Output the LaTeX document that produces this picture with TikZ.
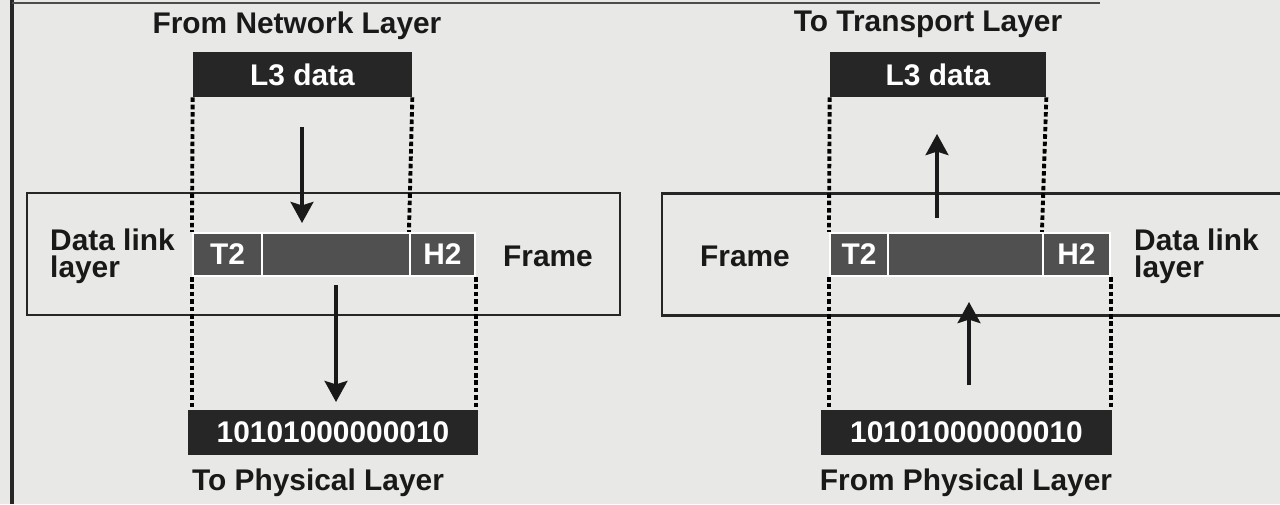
\documentclass[tikz,border=0pt]{standalone}
\usepackage{fontspec}
\setmainfont{Liberation Sans}
\usetikzlibrary{
    arrows.meta,  % For arrow tips
    positioning   % For relative placement
}
\definecolor{paper}{RGB}{232,232,230}
\definecolor{boxdark}{RGB}{38,38,38}
\definecolor{framegray}{RGB}{80,80,80}

\begin{document}
\begin{tikzpicture}[
    x=0.02cm, y=-0.02cm,
    >=Stealth, % Set default arrow tip style
    every node/.style={font=\fontsize{17}{19}\selectfont\bfseries, text=black!90},
    darkbox/.style={fill=boxdark, text=white, minimum height=0.9cm, inner sep=0pt}, % L3 data and bit boxes
    framepart/.style={fill=framegray, draw=white, line width=1.2pt, text=white,
                      minimum height=0.86cm, inner sep=0pt}, % T2 / data / H2
    layerbox/.style={draw=black!85, line width=1.4pt, minimum height=2.44cm, inner sep=0pt},
    guide/.style={black, line width=2.2pt, dash pattern=on 2.6pt off 1.6pt}, % dotted guides
    flow/.style={line width=2pt, black!90,
                 arrows={-Stealth[length=12pt, width=13pt, inset=2pt]}}, % data flow arrows
    caption/.style={align=center},
    twoline/.style={anchor=west, align=left, font=\fontsize{17}{15.5}\selectfont\bfseries}
]

    % Paper background and bounding box
    \fill[paper] (0,0) rectangle (1280,504);
    \useasboundingbox (0,0) rectangle (1280,504);
    \draw[black!85, line width=2.2pt] (12,0) -- (12,504);
    \draw[black!70, line width=0.8pt] (12,3) -- (1100,3);

    % ---------------- Sender side ----------------
    \node[layerbox, minimum width=11.86cm] (dllL) at (323.5,254) {};
    \node[caption] (fromNL) at (297,26) {From Network Layer};
    \node[darkbox, minimum width=4.38cm] (l3L) at (302.5,74.5) {L3 data};

    % Frame: trailer, payload, header
    \node[framepart, minimum width=1.38cm] (T2L) at (227.5,254.5) {T2};
    \node[framepart, minimum width=2.96cm] (dataL) at (336,254.5) {};
    \node[framepart, minimum width=1.3cm] (H2L) at (442.5,254.5) {H2};

    \node[twoline] (dlL) at (44,256) {Data link\\layer};
    \node (frL) at (548,256) {Frame};

    \node[darkbox, minimum width=5.8cm] (bitsL) at (333,432.5) {10101000000010};
    \node[caption] (toPL) at (318,483) {To Physical Layer};

    % Dotted guides
    \draw[guide] (l3L.south west) -- (T2L.north west);
    \draw[guide] (l3L.south east) -- (H2L.north west);
    \draw[guide] (T2L.south west) -- (T2L.south west |- bitsL.north);
    \draw[guide] (H2L.south east) -- (H2L.south east |- bitsL.north);

    % Arrows
    \coordinate (a1s) at (302,127);
    \coordinate (a1e) at (302,223);
    \coordinate (a2s) at (336,285);
    \coordinate (a2e) at (336,402);
    \draw[flow] (a1s) -- (a1e);
    \draw[flow] (a2s) -- (a2e);

    % ---------------- Receiver side ----------------
    \node[layerbox, minimum width=12.4cm] (dllR) at (972,254.5) {};
    \node[caption] (toTL) at (928,24) {To Transport Layer};
    \node[darkbox, minimum width=4.32cm] (l3R) at (938,74.5) {L3 data};

    \node[framepart, minimum width=1.16cm] (T2R) at (859,254.5) {T2};
    \node[framepart, minimum width=3.1cm] (dataR) at (965.5,254.5) {};
    \node[framepart, minimum width=1.34cm] (H2R) at (1076.5,254.5) {H2};

    \node (frR) at (745,256) {Frame};
    \node[twoline] (dlR) at (1128,256) {Data link\\layer};

    \node[darkbox, minimum width=5.82cm] (bitsR) at (966.5,432.5) {10101000000010};
    \node[caption] (fromPL) at (966,483) {From Physical Layer};

    % Dotted guides
    \draw[guide] (l3R.south west) -- (T2R.north west);
    \draw[guide] (l3R.south east) -- (H2R.north west);
    \draw[guide] (T2R.south west) -- (T2R.south west |- bitsR.north);
    \draw[guide] (H2R.south east) -- (H2R.south east |- bitsR.north);

    % Arrows
    \coordinate (b1s) at (937,218);
    \coordinate (b1e) at (937,134);
    \coordinate (b2s) at (969,385);
    \coordinate (b2e) at (969,302);
    \draw[flow] (b1s) -- (b1e);
    \draw[flow] (b2s) -- (b2e);

\end{tikzpicture}
\end{document}
